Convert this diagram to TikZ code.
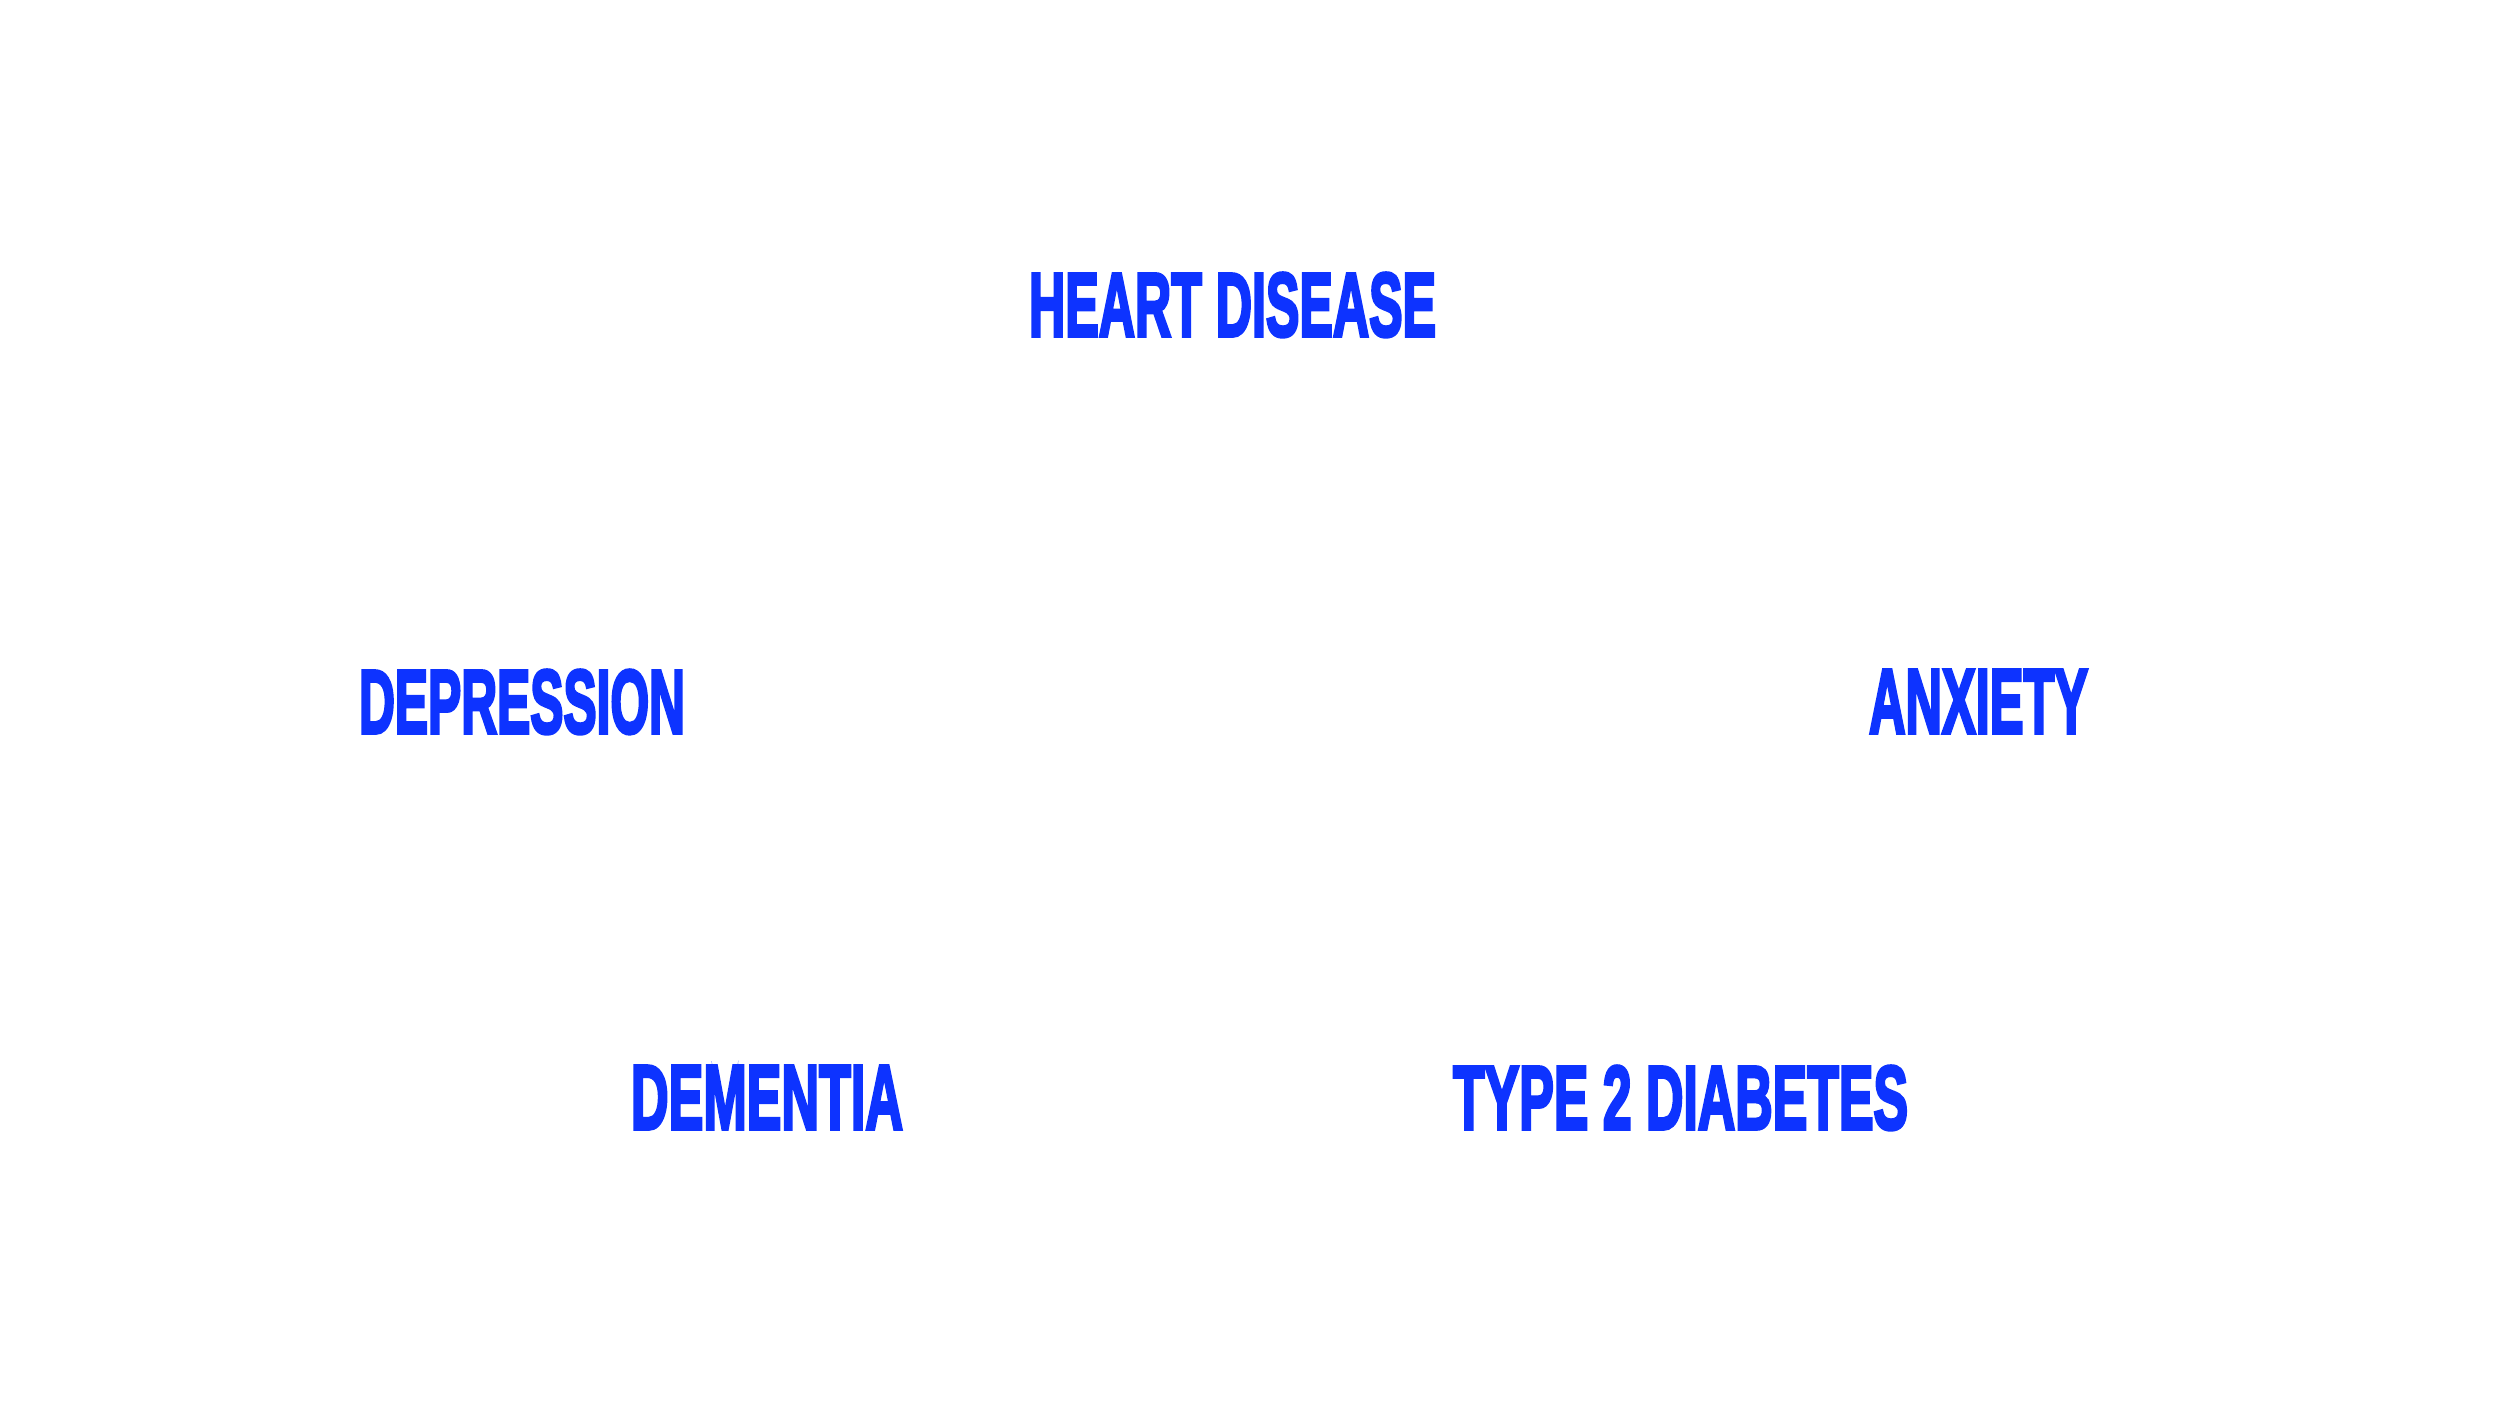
\documentclass[tikz,border=0pt]{standalone}
\usepackage{fontspec}
\newfontfamily\labelfont[FakeBold=4]{Liberation Sans Bold}
\definecolor{labelblue}{RGB}{13,51,255}
\begin{document}
\begin{tikzpicture}[x=1pt,y=-1pt,
  lbl/.style={anchor=north west,inner sep=0pt,outer sep=0pt,text=labelblue,font=\labelfont}]
\useasboundingbox[fill=white] (0,0) rectangle (2500,1406);
\node[lbl] (heart) at (1029,273) {\resizebox{407pt}{63pt}{HEART DISEASE}};
\node[lbl] (depr) at (359,670) {\resizebox{326pt}{63pt}{DEPRESSION}};
\node[lbl] (anx) at (1869,670) {\resizebox{219pt}{63pt}{ANXIETY}};
\node[lbl] (dem) at (631,1066) {\resizebox{272pt}{63pt}{DEMENTIA}};
\node[lbl] (diab) at (1453,1066) {\resizebox{455pt}{63pt}{TYPE 2 DIABETES}};
\end{tikzpicture}
\end{document}
